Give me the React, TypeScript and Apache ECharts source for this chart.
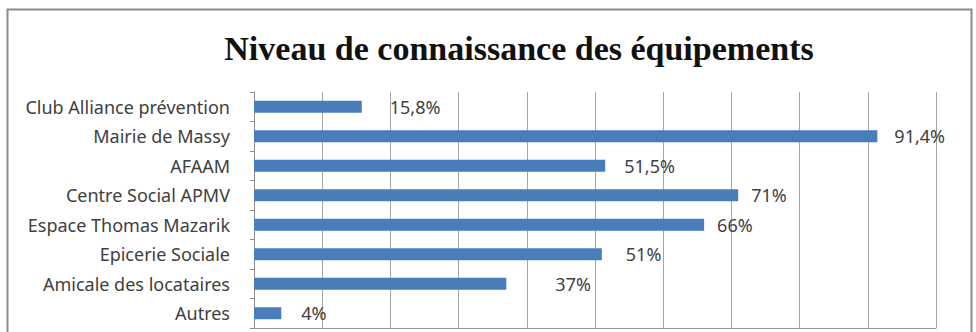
import React, { useEffect, useRef } from "react";
import * as echarts from "echarts";

const titleText = "Niveau de connaissance des équipements";
const categories = [
  "Club Alliance prévention",
  "Mairie de Massy",
  "AFAAM",
  "Centre Social APMV",
  "Espace Thomas Mazarik",
  "Epicerie Sociale",
  "Amicale des locataires",
  "Autres",
];
const values = [15.8, 91.4, 51.5, 71, 66, 51, 37, 4];
const valueLabels = ["15,8%", "91,4%", "51,5%", "71%", "66%", "51%", "37%", "4%"];
const labelGap = [28, 17, 19, 13, 13, 24, 49, 20];

export default function App() {
  const ref = useRef<HTMLDivElement>(null);
  useEffect(() => {
    if (!ref.current) return;
    const chart = echarts.init(ref.current, null, { renderer: "svg" });
    chart.setOption({
      animation: false,
      backgroundColor: "#ffffff",
      title: {
        text: titleText,
        left: 514,
        textAlign: "center",
        top: 26,
        textStyle: {
          fontFamily: "Liberation Serif",
          fontWeight: "bold",
          fontSize: 34,
          color: "#111111",
        },
      },
      graphic: [
        {
          type: "rect",
          shape: { x: 7.5, y: 9.5, width: 964, height: 340 },
          style: { fill: "none", stroke: "#8a8a8a", lineWidth: 2 },
          silent: true,
        },
      ],
      grid: { left: 254, right: 40, top: 92, bottom: 4, containLabel: false },
      xAxis: {
        type: "value",
        min: 0,
        max: 100,
        interval: 10,
        axisLabel: { show: false },
        axisLine: { show: true, lineStyle: { color: "#999999" } },
        axisTick: { show: false },
        splitLine: { show: true, lineStyle: { color: "#a6a6a6", width: 1 } },
      },
      yAxis: {
        type: "category",
        data: categories,
        inverse: true,
        axisLine: { show: true, lineStyle: { color: "#8c8c8c" } },
        axisTick: { show: true, length: 4, lineStyle: { color: "#8c8c8c" } },
        axisLabel: {
          margin: 24,
          fontFamily: "Noto Sans",
          fontSize: 18,
          color: "#404040",
        },
      },
      series: [
        {
          type: "bar",
          data: values.map((v, i) => ({
            value: v,
            label: {
              show: true,
              position: "right",
              distance: labelGap[i],
              formatter: valueLabels[i],
              fontFamily: "Noto Sans",
              fontSize: 18,
              color: "#404040",
            },
          })),
          barWidth: 12,
          itemStyle: { color: "#4a7ebb" },
        },
      ],
    });
    return () => chart.dispose();
  }, []);
  return (
    <div
      ref={ref}
      style={{ position: "fixed", left: 0, top: 0, width: 976, height: 332 }}
    />
  );
}
